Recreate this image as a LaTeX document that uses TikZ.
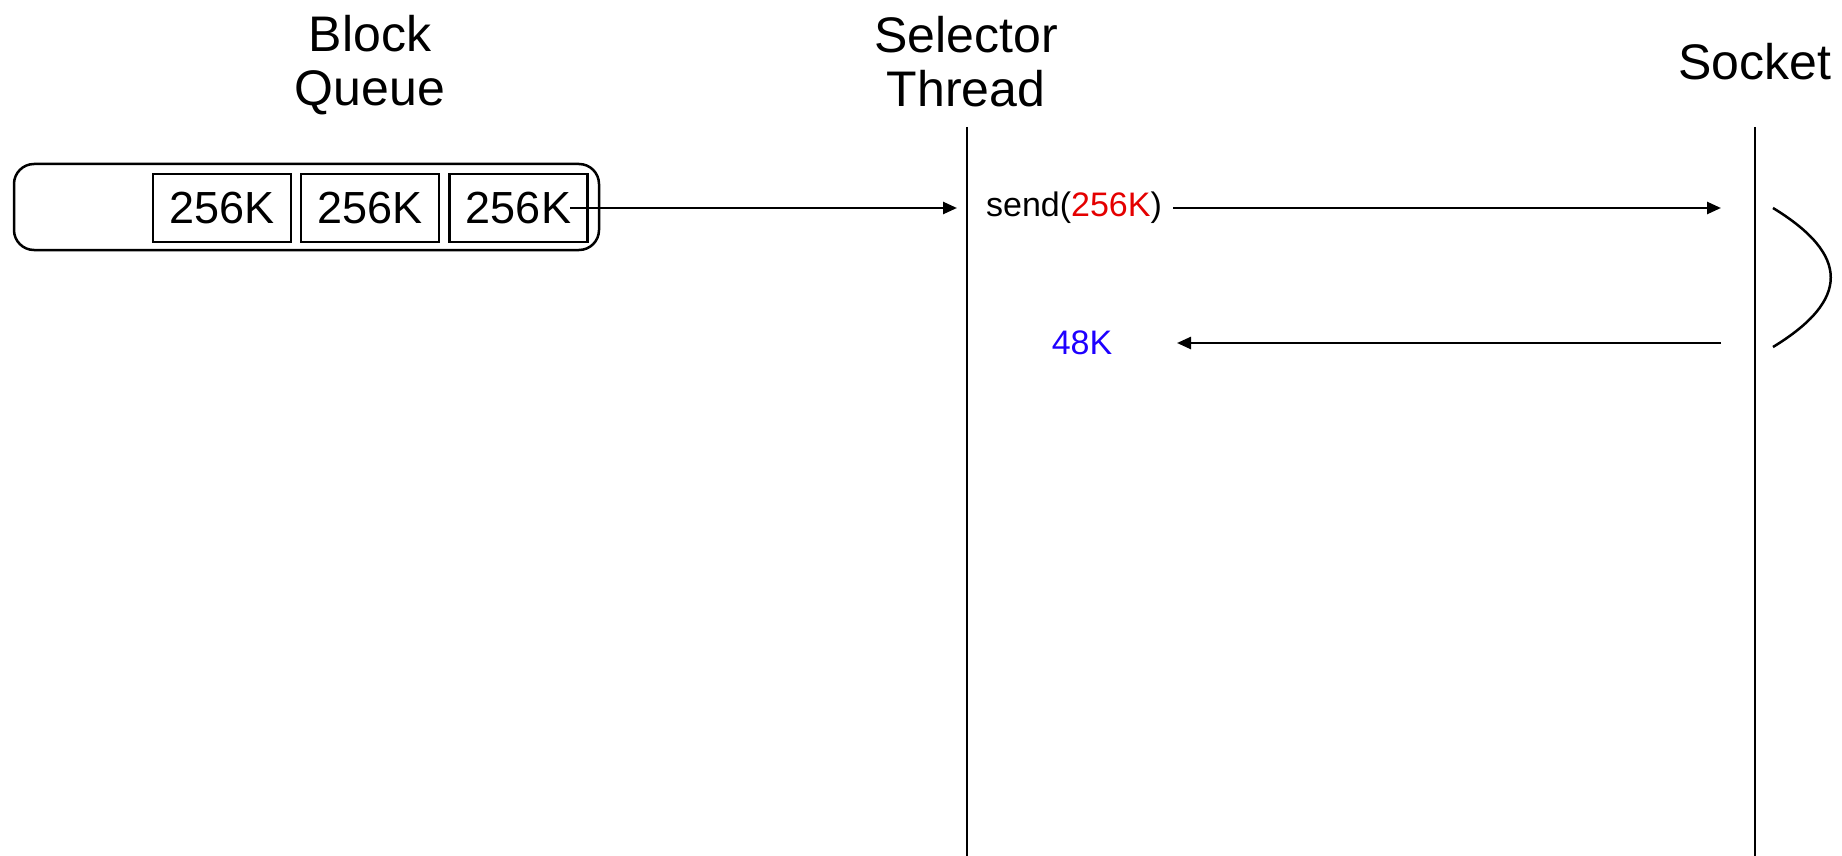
\documentclass[tikz,border=0pt]{standalone}
\usepackage{fontspec}
\setmainfont{Liberation Sans}
\usetikzlibrary{arrows.meta}
\definecolor{sendred}{RGB}{228,0,0}
\definecolor{ackblue}{RGB}{30,0,255}
\tikzset{
    title/.style={align=center, font=\fontsize{50}{54}\selectfont},
    block/.style={draw, line width=2.5pt, minimum width=138pt, minimum height=68pt, inner sep=0pt, font=\fontsize{45}{45}\selectfont},
    small/.style={font=\fontsize{34}{34}\selectfont},
    msg/.style={line width=2.5pt, -{Triangle[length=14pt,width=12pt]}},
    life/.style={line width=2.5pt}
}
\begin{document}
\begin{tikzpicture}[x=1pt, y=-1pt]
        \useasboundingbox (0,0) rectangle (1842,856);
        % headers
        \node[title] (BQ) at (370, 65) {Block\\Queue};
        \node[title] (ST) at (966, 62) {Selector\\Thread};
        \node[title] (SK) at (1755, 62) {Socket};
        % queue with three blocks
        \node[draw, line width=2.5pt, rounded corners=20pt, minimum width=585pt, minimum height=86pt] (Q) at (306.5, 207) {};
        \node[block] (Q1) at (222, 208) {256K};
        \node[block] (Q2) at (370, 208) {256K};
        \node[block] (Q3) at (518.5, 208) {256K};
        % lifelines
        \coordinate (STtop) at (967, 127);
        \coordinate (STbot) at (967, 856);
        \coordinate (SKtop) at (1755, 127);
        \coordinate (SKbot) at (1755, 856);
        \path [life] (STtop) edge (STbot);
        \path [life] (SKtop) edge (SKbot);
        % messages
        \node[small] (send) at (1074, 208) {send(\textcolor{sendred}{256K})};
        \node[small, text=ackblue] (ack) at (1082, 343) {48K};
        \coordinate (Qout) at (570, 208);
        \coordinate (STin) at (957, 208);
        \coordinate (SKin) at (1721, 208);
        \coordinate (SKout) at (1721, 343);
        \coordinate (STback) at (1177, 343);
        \path [msg] (Qout) edge (STin);
        \path [msg] (send.east) ++(8,0) coordinate (sendout) (sendout) edge (SKin);
        \path [msg] (SKout) edge (STback);
        % partial write loop
        \coordinate (L1) at (1773, 208);
        \coordinate (L2) at (1773, 347);
        \draw [life] (L1) .. controls (1850, 255) and (1850, 300) .. (L2);
    \end{tikzpicture}
\end{document}
